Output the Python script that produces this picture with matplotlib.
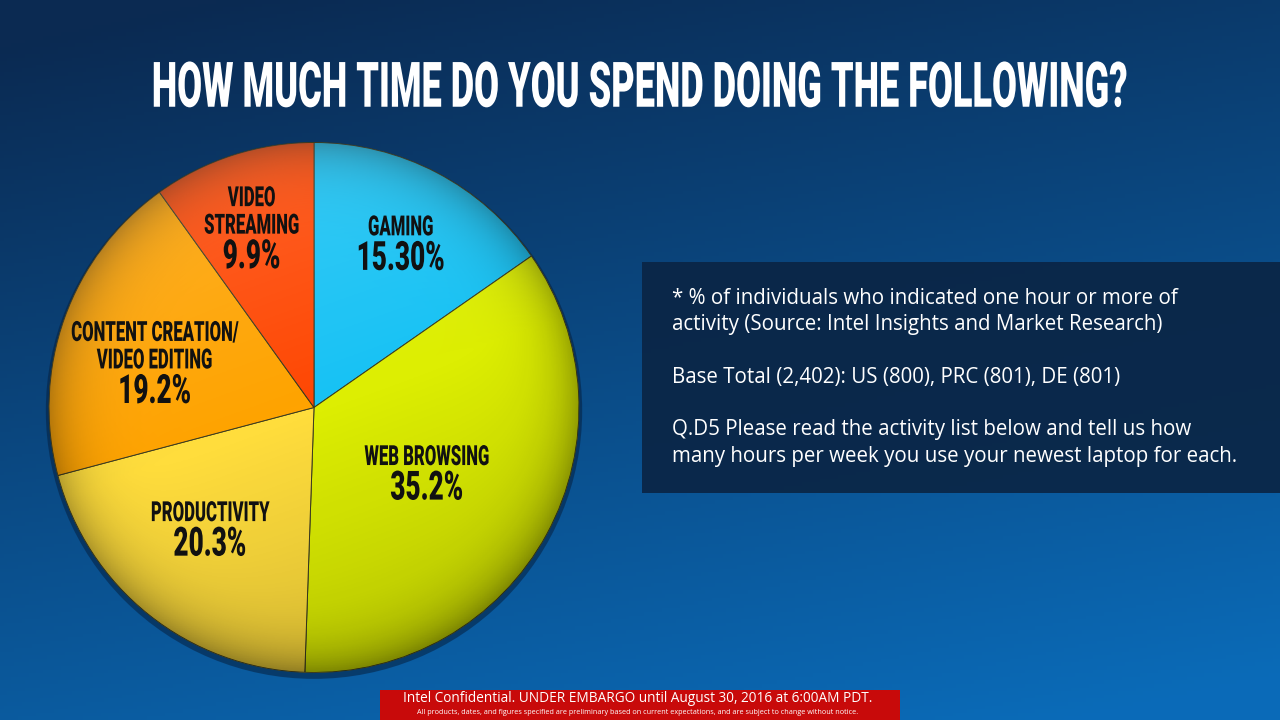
import numpy as np
import matplotlib
matplotlib.use("Agg")
import matplotlib.pyplot as plt
from matplotlib.patches import Circle, Rectangle
from matplotlib.patheffects import AbstractPathEffect
from matplotlib.transforms import Affine2D
from matplotlib.colors import to_rgb

# data
categories = ["GAMING", "WEB BROWSING", "PRODUCTIVITY",
              "CONTENT CREATION/\nVIDEO EDITING", "VIDEO\nSTREAMING"]
shares = [15.3, 35.2, 20.3, 19.2, 9.9]
share_labels = ["15.30%", "35.2%", "20.3%", "19.2%", "9.9%"]
slice_colors = ["#17C2F4", "#DDEE02", "#FFDD3C", "#FFA300", "#FF4703"]

title = "HOW MUCH TIME DO YOU SPEND DOING THE FOLLOWING?"
notes = ("* % of individuals who indicated one hour or more of\n"
         "activity (Source: Intel Insights and Market Research)\n\n"
         "Base Total (2,402): US (800), PRC (801), DE (801)\n\n"
         "Q.D5 Please read the activity list below and tell us how\n"
         "many hours per week you use your newest laptop for each.")
footer1 = "Intel Confidential. UNDER EMBARGO until August 30, 2016 at 6:00AM PDT."
footer2 = ("All products, dates, and figures specified are preliminary based on "
           "current expectations, and are subject to change without notice.")

# where the percent text sits inside each wedge (fraction of radius, angle nudge)
label_r = [0.665, 0.515, 0.635, 0.605, 0.63]
label_nudge = [-2.0, -5.5, 0.5, 12.5, 4.0]


class Stretch(AbstractPathEffect):
    """rescale glyphs about the bottom-centre of each text line"""
    def __init__(self, sx=1.0, sy=1.0):
        super().__init__()
        self.sx, self.sy = sx, sy

    def draw_path(self, renderer, gc, tpath, affine, rgbFace=None):
        v = affine.transform(tpath.vertices)
        cx = 0.5 * (v[:, 0].min() + v[:, 0].max())
        y0 = v[:, 1].min()
        aff = affine + (Affine2D().translate(-cx, -y0)
                        .scale(self.sx, self.sy).translate(cx, y0))
        renderer.draw_path(gc, tpath, aff, rgbFace)


fig = plt.figure(figsize=(12.8, 7.2), dpi=100)

# background gradient
bg = fig.add_axes([0, 0, 1, 1])
bg.set_axis_off()
yy, xx = np.mgrid[0:1:200j, 0:1:356j]
t = np.clip(0.8 * yy + 0.3 * xx - 0.05, 0, 1)
c0 = np.array(to_rgb("#0B2A52"))
c1 = np.array(to_rgb("#0A6BB8"))
img = c0 + (c1 - c0) * t[..., None]
bg.imshow(img, extent=[0, 1, 0, 1], origin="upper", aspect="auto")
bg.set_xlim(0, 1)
bg.set_ylim(0, 1)

# tall condensed title: normal-width text stretched upwards
fig.text(0.5, 1 - 107 / 720, title, ha="center", va="baseline", color="white",
         fontsize=26, fontfamily="Roboto", fontweight="black",
         path_effects=[Stretch(1.0, 1.74)])

# notes box
bg.add_patch(Rectangle((642 / 1280, 1 - 493 / 720), 638 / 1280, 231 / 720,
                       facecolor="#0A2545", alpha=0.92, edgecolor="none"))
fig.text(672 / 1280, 1 - 288 / 720, notes, ha="left", va="top", color="white",
         fontsize=14.8, fontfamily="Open Sans", linespacing=1.33)

# footer
bg.add_patch(Rectangle((380 / 1280, 0), 520 / 1280, 30 / 720,
                       facecolor="#C80A0A", edgecolor="none"))
fig.text(638 / 1280, 1 - 699 / 720, footer1, ha="center", va="center",
         color="white", fontsize=9.8, fontfamily="Open Sans")
fig.text(638 / 1280, 1 - 713 / 720, footer2, ha="center", va="center",
         color="white", fontsize=5.2, fontfamily="Open Sans")

# pie
ax = fig.add_axes([49 / 1280, 1 - 673 / 720, 530 / 1280, 531 / 720])
ax.set_axis_off()
ax.add_patch(Circle((0.0, -0.012), 1.012, facecolor="#06203f", alpha=0.55,
                    edgecolor="none", zorder=0, clip_on=False))
wedges, _ = ax.pie(shares, colors=slice_colors, startangle=90, counterclock=False,
                   wedgeprops=dict(edgecolor="#3a3a20", linewidth=0.7))

# soft 3d shading over the disc
gy, gx = np.mgrid[1:-1:300j, -1:1:300j]
rr = np.sqrt(gx ** 2 + gy ** 2)
s = -0.2 * gx + 0.55 * gy
shade = np.zeros((300, 300, 4))
light = np.clip(s, 0, None) * 0.25
dark = np.clip(-s, 0, None) * 0.26 + 0.28 * np.clip(rr, 0, 1) ** 10
shade[..., :3] = (light / (light + dark + 1e-9))[..., None]
shade[..., 3] = np.clip(light + dark, 0, 0.5)
im = ax.imshow(shade, extent=[-1, 1, -1, 1], zorder=3)
clip = Circle((0, 0), 1, transform=ax.transData)
im.set_clip_path(clip)

for w, name, pct, r, nud in zip(wedges, categories, share_labels, label_r, label_nudge):
    ang = np.deg2rad(0.5 * (w.theta1 + w.theta2) + nud)
    x, y = r * np.cos(ang), r * np.sin(ang)
    ax.annotate(pct, (x, y), xytext=(0, -3), textcoords="offset points",
                ha="center", va="center", fontsize=29,
                fontfamily="Roboto", fontweight="black", color="#111111",
                path_effects=[Stretch(0.65, 1.0)], zorder=5)
    lines = name.split("\n")
    for i, line in enumerate(lines):
        up = 19 + 19.8 * (len(lines) - 1 - i)
        ax.annotate(line, (x, y), xytext=(0, up), textcoords="offset points",
                    ha="center", va="center", fontsize=20, fontfamily="Roboto",
                    fontweight="black", color="#111111",
                    path_effects=[Stretch(0.6, 1.0)], zorder=5)

ax.set_xlim(-1.0, 1.0)
ax.set_ylim(-1.0, 1.0)

fig.savefig("out.png", dpi=100)
